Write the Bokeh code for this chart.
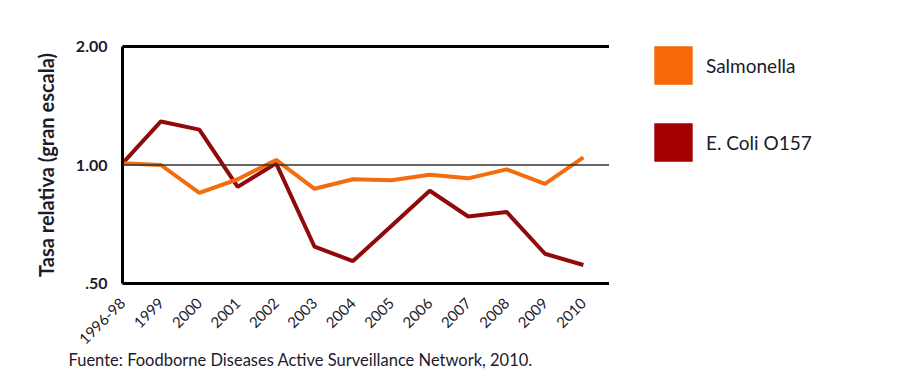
from bokeh.plotting import figure
from bokeh.layouts import row
from bokeh.models import (Range1d, FixedTicker, CustomJSTickFormatter, Span, Title,
                          Legend, LegendItem, LinearAxis)
from bokeh.embed import file_html
from bokeh.resources import INLINE
import math

categories = ["1996-98", "1999", "2000", "2001", "2002", "2003", "2004",
              "2005", "2006", "2007", "2008", "2009", "2010"]
salmonella = [1.01, 1.0, 0.85, 0.92, 1.03, 0.87, 0.92, 0.915, 0.945, 0.925, 0.975, 0.895, 1.045]
ecoli = [1.01, 1.29, 1.23, 0.88, 1.01, 0.62, 0.57, 0.70, 0.86, 0.74, 0.76, 0.595, 0.557]
y_ticks = [0.5, 1.0, 2.0]
series_names = ["Salmonella", "E. Coli O157"]

FONT = "Lato"
TXT = "#1b1b2b"
ORANGE = "#f36c0d"
RED_LINE = "#900a0a"
ORANGE_BOX = "#f5690a"
RED_BOX = "#a50000"

xs = list(range(len(categories)))

p = figure(width=609, height=377, y_axis_type="log", output_backend="svg",
           toolbar_location=None, x_range=Range1d(0, 12.68), y_range=Range1d(0.5, 2.0),
           min_border_left=122, min_border_right=0, min_border_top=46, min_border_bottom=94)
p.outline_line_color = None
p.xgrid.visible = False
p.ygrid.visible = False
p.background_fill_color = "white"
p.border_fill_color = "white"

# y axis
yax = p.yaxis[0]
yax.ticker = FixedTicker(ticks=y_ticks)
yax.formatter = CustomJSTickFormatter(code="return tick < 0.75 ? '.50' : tick.toFixed(2);")
yax.axis_line_width = 3
yax.axis_line_color = "black"
yax.major_tick_line_color = None
yax.minor_tick_line_color = None
yax.major_label_text_font = FONT
yax.major_label_text_font_style = "bold"
yax.major_label_text_font_size = "16px"
yax.major_label_text_color = TXT
yax.major_label_standoff = 9
yax.axis_label = "Tasa relativa (gran escala)"
yax.axis_label_text_font = FONT
yax.axis_label_text_font_style = "bold"
yax.axis_label_text_font_size = "20px"
yax.axis_label_text_color = TXT
yax.axis_label_standoff = 15

# x axis
xax = p.xaxis[0]
xax.ticker = FixedTicker(ticks=xs)
xax.formatter = CustomJSTickFormatter(args=dict(labels=categories),
                                      code="return labels[Math.round(tick)] || '';")
xax.major_label_orientation = math.pi / 4
xax.axis_line_width = 3
xax.axis_line_color = "black"
xax.major_tick_line_color = None
xax.minor_tick_line_color = None
xax.major_label_text_font = FONT
xax.major_label_text_font_size = "15px"
xax.major_label_text_color = TXT
xax.major_label_standoff = 11

# top line
top = LinearAxis(ticker=FixedTicker(ticks=[]), axis_line_width=3, axis_line_color="black",
                 major_tick_line_color=None, minor_tick_line_color=None,
                 major_label_text_font_size="0px")
p.add_layout(top, "above")

p.add_layout(Span(location=1.0, dimension="width", line_color="#333333", line_width=1.5))

p.line(xs, ecoli, line_color=RED_LINE, line_width=4)
p.line(xs, salmonella, line_color=ORANGE, line_width=4)

p.add_layout(Title(text="Fuente: Foodborne Diseases Active Surveillance Network, 2010.",
                   align="left", offset=-54, standoff=-9, text_font=FONT,
                   text_font_size="16.5px", text_font_style="normal", text_color=TXT), "below")

# legend panel
f2 = figure(width=291, height=377, output_backend="svg", toolbar_location=None,
            x_axis_location=None, y_axis_location=None, min_border=0,
            x_range=Range1d(0, 1), y_range=Range1d(0, 1))
f2.outline_line_color = None
f2.xgrid.visible = False
f2.ygrid.visible = False
q_or = f2.quad(left=[5], right=[6], top=[6], bottom=[5], fill_color=ORANGE_BOX, line_color=None)
q_red = f2.quad(left=[5], right=[6], top=[6], bottom=[5], fill_color=RED_BOX, line_color=None)

legend = Legend(items=[LegendItem(label=series_names[0], renderers=[q_or]),
                       LegendItem(label=series_names[1], renderers=[q_red])],
                location=(40, 117), glyph_width=48, glyph_height=48, spacing=29,
                label_standoff=9, padding=0, margin=0, border_line_color=None,
                background_fill_alpha=0, label_text_font=FONT, label_text_font_size="19px",
                label_text_color=TXT)
f2.add_layout(legend, "center")

open("out.html", "w").write(file_html(row(p, f2), INLINE))
